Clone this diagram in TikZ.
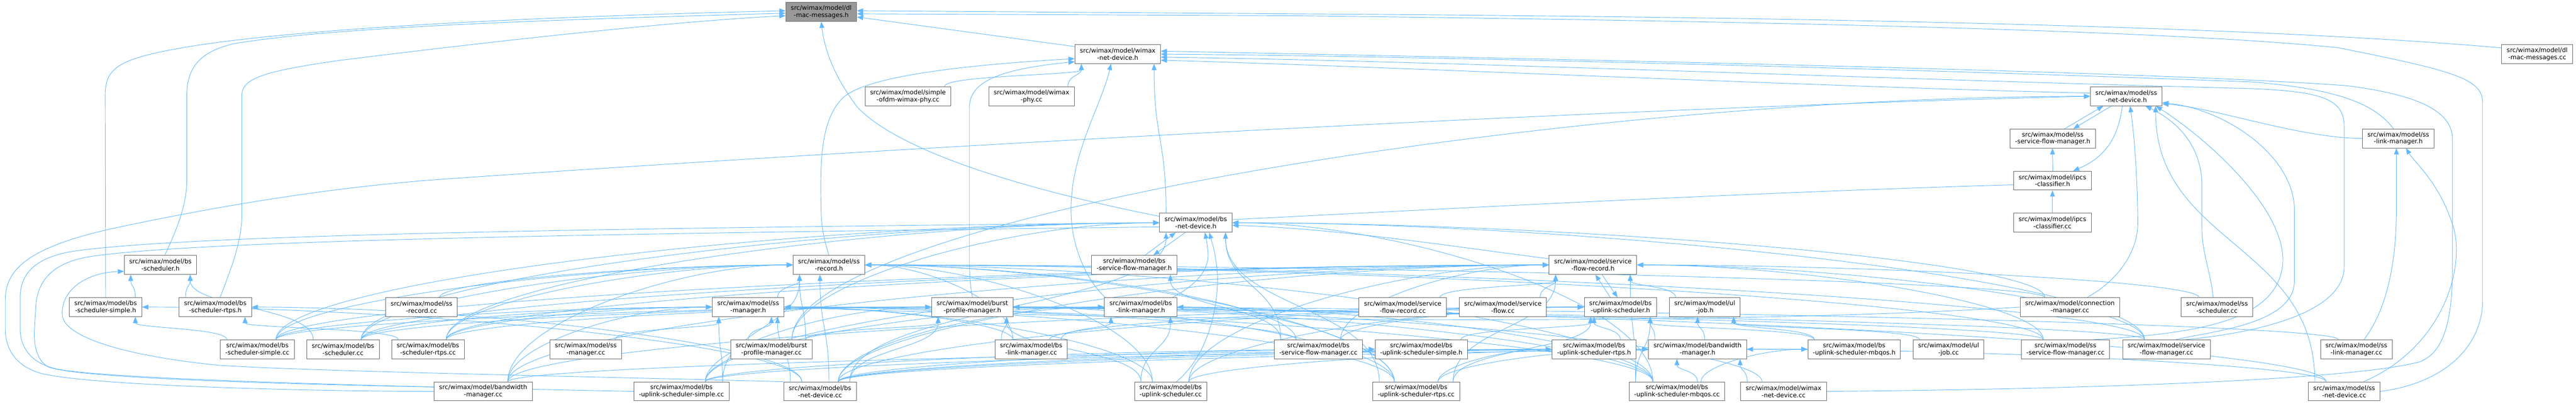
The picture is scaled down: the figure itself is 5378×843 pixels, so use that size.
\documentclass[tikz,border=0pt]{standalone}
\usepackage{fontspec}
\setmainfont{DejaVu Sans}
\usetikzlibrary{arrows.meta,calc}
\definecolor{edgeblue}{HTML}{63B8FF}
\definecolor{nodeborder}{HTML}{666666}
\definecolor{rootfill}{HTML}{999999}
\pgfdeclarelayer{bg}
\pgfsetlayers{bg,main}
\tikzset{
  file/.style={draw=nodeborder, line width=1pt, fill=white, text=black, align=center,
    minimum height=39.5pt, inner xsep=10.5pt, inner ysep=0pt, font=\fontsize{13}{15}\selectfont},
  rootfile/.style={file, fill=rootfill},
  dep/.style={draw=edgeblue, line width=1pt, -{Triangle[length=13pt,width=10pt]}},
}
% bottom-to-bottom connector
\newcommand\depA[2]{\draw[dep] let \p1=(#1.north), \p2=(#2.south), \p3=(#1.north west), \p4=(#1.north east),
  \p5=(#2.south west), \p6=(#2.south east),
  \n1={min(max(\x2,\x3+14pt),\x4-14pt)}, \n2={min(max(\x1,\x5+14pt),\x6-14pt)}, \n3={0.5*(\y2-\y1)} in
  (\n1,\y1) .. controls (\n1,\y1+\n3) and (\n2,\y2-\n3) .. (\n2,\y2);}
% connector entering the west side
\newcommand\depW[2]{\draw[dep] let \p1=($(#1.north)!.5!(#1.north east)$), \p2=(#2.west),
  \n1={0.5*(\y2-\y1)}, \n2={0.4*(\x2-\x1)} in
  (\p1) .. controls (\x1,\y1+\n1) and (\x2-\n2,\y2) .. (\p2);}
% connector entering the east side
\newcommand\depE[2]{\draw[dep] let \p1=($(#1.north)!.5!(#1.north west)$), \p2=(#2.east),
  \n1={0.5*(\y2-\y1)}, \n2={0.4*(\x1-\x2)} in
  (\p1) .. controls (\x1,\y1+\n1) and (\x2+\n2,\y2) .. (\p2);}
\begin{document}
\begin{tikzpicture}[x=1pt,y=-1pt]
\useasboundingbox (0,0) rectangle (5378,843);
% row 0
\node[rootfile] (dlh) at (1714.5,25) {src/wimax/model/dl\\-mac-messages.h};
% row 1
\node[file] (wndh) at (2333.5,113) {src/wimax/model/wimax\\-net-device.h};
\node[file] (dlcc) at (5297,113) {src/wimax/model/dl\\-mac-messages.cc};
% row 2
\node[file] (sofdm) at (1895.5,201) {src/wimax/model/simple\\-ofdm-wimax-phy.cc};
\node[file] (wphy) at (2153.5,201) {src/wimax/model/wimax\\-phy.cc};
\node[file] (ssndh) at (4439,201) {src/wimax/model/ss\\-net-device.h};
% row 3
\node[file] (sssfmh) at (4285.5,289) {src/wimax/model/ss\\-service-flow-manager.h};
\node[file] (sslmh) at (5007,289) {src/wimax/model/ss\\-link-manager.h};
% row 4
\node[file] (ipcsh) at (4285,377) {src/wimax/model/ipcs\\-classifier.h};
% row 5
\node[file] (bsndh) at (2496.5,465) {src/wimax/model/bs\\-net-device.h};
\node[file] (ipcscc) at (4285,465) {src/wimax/model/ipcs\\-classifier.cc};
% row 6
\node[file] (bsschh) at (335,553) {src/wimax/model/bs\\-scheduler.h};
\node[file] (ssrech) at (1730.6,553) {src/wimax/model/ss\\-record.h};
\node[file] (bssfmh) at (2368,553) {src/wimax/model/bs\\-service-flow-manager.h};
\node[file] (sfrh) at (3325.6,553) {src/wimax/model/service\\-flow-record.h};
% row 7
\node[file] (bsschsh) at (220.5,641) {src/wimax/model/bs\\-scheduler-simple.h};
\node[file] (bsschrh) at (449.5,641) {src/wimax/model/bs\\-scheduler-rtps.h};
\node[file] (ssreccc) at (880,641) {src/wimax/model/ss\\-record.cc};
\node[file] (ssmgrh) at (1562,641) {src/wimax/model/ss\\-manager.h};
\node[file] (bpmh) at (2030,641) {src/wimax/model/burst\\-profile-manager.h};
\node[file] (bslmh) at (2381.5,641) {src/wimax/model/bs\\-link-manager.h};
\node[file] (sfrcc) at (2928.5,641) {src/wimax/model/service\\-flow-record.cc};
\node[file] (sfcc) at (3137.5,641) {src/wimax/model/service\\-flow.cc};
\node[file] (bsuplh) at (3383,641) {src/wimax/model/bs\\-uplink-scheduler.h};
\node[file] (uljobh) at (3559,641) {src/wimax/model/ul\\-job.h};
\node[file] (cmcc) at (4321.4,641) {src/wimax/model/connection\\-manager.cc};
\node[file] (ssschcc) at (4628.5,641) {src/wimax/model/ss\\-scheduler.cc};
% row 8
\node[file] (bsschscc) at (537.3,729) {src/wimax/model/bs\\-scheduler-simple.cc};
\node[file] (bsschcc) at (716,729) {src/wimax/model/bs\\-scheduler.cc};
\node[file] (bsschrcc) at (893.5,729) {src/wimax/model/bs\\-scheduler-rtps.cc};
\node[file] (ssmgrcc) at (1223,729) {src/wimax/model/ss\\-manager.cc};
\node[file] (bpmcc) at (1610.5,729) {src/wimax/model/burst\\-profile-manager.cc};
\node[file] (bslmcc) at (2152.7,729) {src/wimax/model/bs\\-link-manager.cc};
\node[file] (bssfmcc) at (2752.3,729) {src/wimax/model/bs\\-service-flow-manager.cc};
\node[file] (bsupsh) at (2967.2,729) {src/wimax/model/bs\\-uplink-scheduler-simple.h};
\node[file] (bsuprh) at (3328,729) {src/wimax/model/bs\\-uplink-scheduler-rtps.h};
\node[file] (bwmh) at (3544,729) {src/wimax/model/bandwidth\\-manager.h};
\node[file] (bsupmh) at (3871,729) {src/wimax/model/bs\\-uplink-scheduler-mbqos.h};
\node[file] (uljobcc) at (4068,729) {src/wimax/model/ul\\-job.cc};
\node[file] (sssfmcc) at (4312,729) {src/wimax/model/ss\\-service-flow-manager.cc};
\node[file] (sfmcc) at (4523,729) {src/wimax/model/service\\-flow-manager.cc};
\node[file] (sslmcc) at (4919.5,729) {src/wimax/model/ss\\-link-manager.cc};
% row 9
\node[file] (bwmcc) at (1008.7,817) {src/wimax/model/bandwidth\\-manager.cc};
\node[file] (bsupscc) at (1422.7,817) {src/wimax/model/bs\\-uplink-scheduler-simple.cc};
\node[file] (bsndcc) at (1712,817) {src/wimax/model/bs\\-net-device.cc};
\node[file] (bsupcc) at (2444,817) {src/wimax/model/bs\\-uplink-scheduler.cc};
\node[file] (bsuprcc) at (2956.6,817) {src/wimax/model/bs\\-uplink-scheduler-rtps.cc};
\node[file] (bsupmcc) at (3501,817) {src/wimax/model/bs\\-uplink-scheduler-mbqos.cc};
\node[file] (wndcc) at (3723.6,817) {src/wimax/model/wimax\\-net-device.cc};
\node[file] (ssndcc) at (4894,817) {src/wimax/model/ss\\-net-device.cc};

\begin{pgfonlayer}{bg}
\begin{scope}[yscale=0.9942]
% ---- includers of dl-mac-messages.h
\draw[dep] (wndh.170) -- (dlh.-8);
\draw[dep] (dlcc.170) .. controls (4700,55) and (3800,36) .. (2700,29) -- (dlh.2);
\draw[dep] (ssndcc.east) .. controls (5100,805) and (5183,730) .. (5183,630) -- (5183,215)
  .. controls (5183,165) and (5120,148) .. (4880,100) .. controls (4600,72) and (4000,48) .. (2700,33) -- (dlh.-3);
\draw[dep] ([xshift=9pt]bsschh.north) .. controls (370,480) and (390,430) .. (390,378) -- (390,200)
  .. controls (390,140) and (420,108) .. (487,92) .. controls (700,55) and (1200,40) .. (dlh.-178);
\draw[dep] (bsschsh.north) -- (219.6,200) .. controls (219.6,140) and (250,122) .. (400,97)
  .. controls (600,65) and (1000,38) .. (dlh.178);
\draw[dep] ([xshift=10pt]bsschrh.north) .. controls (480,570) and (505,510) .. (505,450) -- (505,200)
  .. controls (505,165) and (550,150) .. (700,128) .. controls (1000,90) and (1400,45) .. (dlh.-174);
\draw[dep] (bsndh.170) .. controls (2100,390) and (1870,310) .. (1790,225)
  .. controls (1745,165) and (1722,110) .. (dlh.south);
% ---- includers of wimax-net-device.h
\depA{sofdm}{wndh}
\depA{wphy}{wndh}
\depA{bsndh}{wndh}
\draw[dep] (bpmh.north) .. controls (2026,600) and (2024,580) .. (2024,550) -- (2024,225)
  .. controls (2024,170) and (2090,145) .. (wndh.-170);
\draw[dep] ([xshift=2pt]bslmh.north west) .. controls (2270,590) and (2236,520) .. (2236,440)
  .. controls (2236,320) and (2300,220) .. ([xshift=-14pt]wndh.south);
\draw[dep] (ssrech.north) .. controls (1716,490) and (1714,460) .. (1714,432)
  .. controls (1712,330) and (1715,250) .. (1760,205) .. controls (1800,168) and (1950,140) .. (wndh.-174);
\draw[dep] (ssndh.175) .. controls (3800,182) and (2900,140) .. (wndh.-8);
\draw[dep] ([xshift=-10pt]sslmh.north) .. controls (4962,225) and (4900,188) .. (4700,172)
  .. controls (4000,145) and (3000,118) .. (wndh.east);
\draw[dep] ([xshift=40pt]sfmcc.north) .. controls (4700,700) and (4894,660) .. (4894,560) -- (4894,265)
  .. controls (4894,205) and (4840,192) .. (4700,186) .. controls (3900,165) and (3000,128) .. (wndh.-4);
\draw[dep] (wndcc.east) .. controls (4300,818) and (4900,800) .. (5050,760)
  .. controls (5110,740) and (5120,650) .. (5120,560) -- (5120,290)
  .. controls (5118,230) and (5040,198) .. (4900,180) .. controls (4500,150) and (3300,125) .. (wndh.4);
% ---- ss-net-device.h cluster
\draw[dep] ([xshift=25pt]sssfmh.north) -- ([xshift=-48pt]ssndh.south);
\draw[dep] ([xshift=-31pt]ssndh.south) -- ([xshift=43pt]sssfmh.north);
\draw[dep] ([xshift=-8pt]ssndh.south) .. controls (4422,290) and (4395,330) .. ([xshift=43pt]ipcsh.north);
\depA{ipcsh}{sssfmh}
\depA{ipcscc}{ipcsh}
\draw[dep] (bsndh.5) .. controls (3000,440) and (3700,400) .. (ipcsh.-3);
\draw[dep] (sslmh.west) .. controls (4800,290) and (4620,225) .. (ssndh.-12);
\draw[dep] ([xshift=36pt]cmcc.north) .. controls (4420,590) and (4463,530) .. (4463,470)
  .. controls (4463,400) and (4458,300) .. ([xshift=8pt]ssndh.south);
\draw[dep] ([xshift=-8pt]ssschcc.north) .. controls (4615,570) and (4597,530) .. (4597,480) -- (4597,390)
  .. controls (4597,320) and (4560,262) .. ([xshift=40pt]ssndh.south);
\draw[dep] ([xshift=60pt]sssfmcc.north) .. controls (4600,700) and (4750,670) .. (4765,560)
  .. controls (4780,450) and (4620,300) .. ([xshift=62pt]ssndh.south);
\draw[dep] ([xshift=20pt]sfmcc.north) .. controls (4620,695) and (4790,680) .. (4790,590) -- (4790,440)
  .. controls (4790,330) and (4650,230) .. (ssndh.-10);
\depA{ssndcc}{ssndh}
\draw[dep] ([xshift=-35pt]ssndcc.north east) .. controls (5100,730) and (5150,560) .. (5120,470)
  .. controls (5090,380) and (5040,340) .. ([xshift=16pt]sslmh.south);
\draw[dep] ([xshift=16pt]sslmcc.north) .. controls (4990,640) and (5003,530) .. (5003,440) -- ([xshift=-4pt]sslmh.south);
% ---- bs-net-device.h cluster
\draw[dep] ([xshift=22.6pt]bssfmh.north) -- ([xshift=-42pt]bsndh.south);
\draw[dep] ([xshift=-22pt]bsndh.south) -- ([xshift=40pt]bssfmh.north);
\draw[dep] ([xshift=-10pt]bslmh.north east) .. controls (2505,595) and (2525,560) .. (2522,530)
  .. controls (2520,510) .. ([xshift=19pt]bsndh.south);
\draw[dep] ([xshift=12pt]bsupcc.north) .. controls (2530,740) and (2548,620) .. (2540,557)
  .. controls (2535,525) .. ([xshift=28pt]bsndh.south);
\draw[dep] (sfrh.172) .. controls (3050,520) and (2800,480) .. (bsndh.-4);
\draw[dep] ([xshift=-21pt]bsuplh.north) -- ([xshift=5pt]sfrh.south);
\draw[dep] ([xshift=19pt]sfrh.south) -- ([xshift=-6pt]bsuplh.north);
% ---- loops round the left
\draw[dep] (bwmcc.west) .. controls (700,822) and (200,812) .. (86,784) .. controls (30,768) and (11,730) .. (11,690)
  -- (11,630) .. controls (11,565) and (60,520) .. (229,481) .. controls (420,440) and (650,398) .. (899,378)
  .. controls (2000,300) and (3500,222) .. (ssndh.west);
\draw[dep] (bsupscc.west) .. controls (1000,815) and (250,800) .. (120,775) .. controls (60,762) and (42,725) .. (42,690)
  -- (42,625) .. controls (42,570) and (80,540) .. (150,528) .. controls (400,490) and (1400,478) .. (bsndh.west);
\draw[dep] (bwmcc.175) .. controls (600,806) and (160,795) .. (100,770) .. controls (75,755) and (70,720) .. (72,690)
  -- (75,640) .. controls (80,580) and (120,552) .. (180,540) .. controls (420,500) and (1500,488) .. (bsndh.-5);
\draw[dep] (bsndcc.north west) .. controls (1300,792) and (650,780) .. (459,767)
  .. controls (300,752) and (132,715) .. (130,660) .. controls (128,605) and (185,572) .. (bsschh.-170);
% ---- simple connectors
\depA{bsschscc}{bsschsh}
\depA{bsschcc}{bsschh}
\depA{bsschrcc}{bsschrh}
\depA{bsschsh}{bsschh}
\depA{bsschrh}{bsschh}
\depA{ssmgrh}{ssrech}
\depA{ssmgrcc}{ssmgrh}
\depA{bpmcc}{bpmh}
\depA{bpmcc}{ssmgrh}
\depA{bpmcc}{ssrech}
\depA{bslmcc}{bslmh}
\depA{bslmcc}{bpmh}
\depA{bssfmcc}{bssfmh}
\depA{bssfmcc}{bsndh}
\depA{bsupscc}{ssmgrh}
\depA{bsupscc}{ssrech}
\depA{bsndcc}{bsndh}
\depA{bsndcc}{bpmh}
\depA{bsndcc}{ssmgrh}
\depA{bsndcc}{ssrech}
\depA{bsupcc}{bslmh}
\depA{bsupcc}{bpmh}
\depA{bsuprcc}{bsndh}
\depA{bsuprcc}{sfrh}
\depA{bsuprcc}{bsuplh}
\depA{bsupmcc}{sfrh}
\depA{bsupmcc}{bwmh}
\depA{bsupmcc}{bsuplh}
\depA{wndcc}{bwmh}
\depA{sfrcc}{sfrh}
\depA{sfcc}{sfrh}
\depA{uljobh}{sfrh}
\depA{bsupsh}{bsuplh}
\depA{bsuprh}{bsuplh}
\depA{bwmh}{bsuplh}
\depA{bwmh}{uljobh}
\depA{bsupmh}{bsuplh}
\depA{bsupmh}{uljobh}
\depA{uljobcc}{uljobh}
% ---- connectors into west sides
\depW{bsschscc}{bsndh}
\depW{bsschscc}{bpmh}
\depW{bsschscc}{ssmgrh}
\depW{bsschscc}{ssrech}
\depW{bsschscc}{sfrh}
\depW{bsschcc}{bsndh}
\depW{bsschcc}{bpmh}
\depW{bsschcc}{ssmgrh}
\depW{bsschcc}{ssrech}
\depW{bsschcc}{sfrh}
\depW{bsschrcc}{bsndh}
\depW{bsschrcc}{bpmh}
\depW{bsschrcc}{ssmgrh}
\depW{bsschrcc}{ssrech}
\depW{bsschrcc}{sfrh}
\depW{ssreccc}{ssrech}
\depW{bpmcc}{bsndh}
\depW{bpmcc}{ssndh}
\depW{bslmcc}{bsuplh}
\depW{bssfmcc}{bsuplh}
\depW{bssfmcc}{sfrh}
\depW{bwmcc}{bwmh}
\depW{bwmcc}{ssmgrh}
\depW{bwmcc}{ssrech}
\depW{bwmcc}{bsuplh}
\depW{bwmcc}{sfrh}
\depW{bsupscc}{bsupsh}
\depW{bsupscc}{bpmh}
\depW{bsupscc}{bwmh}
\depW{bsupscc}{sfrh}
\depW{bsupscc}{bslmh}
\depW{bsndcc}{bslmh}
\depW{bsndcc}{sfrh}
\depW{bsndcc}{bsuplh}
\depW{bsndcc}{bsupsh}
\depW{bsndcc}{bsuprh}
\depW{bsndcc}{bsupmh}
\depW{bsndcc}{bwmh}
\depW{bsupcc}{bsuplh}
\depW{bsupcc}{sfrh}
\depW{bsupcc}{bwmh}
\depW{bsuprcc}{bsuprh}
\depW{bsuprcc}{bwmh}
\depW{bsupmcc}{bsupmh}
% ---- connectors into east sides
\depE{bslmcc}{ssmgrh}
\depE{bslmcc}{ssrech}
\depE{bssfmcc}{ssmgrh}
\depE{bssfmcc}{ssrech}
\depE{bsndcc}{bsschsh}
\depE{bsndcc}{bsschrh}
\depE{bsupcc}{ssmgrh}
\depE{bsupcc}{ssrech}
\depE{bsuprcc}{bslmh}
\depE{bsuprcc}{bpmh}
\depE{bsuprcc}{ssmgrh}
\depE{bsuprcc}{ssrech}
\depE{bsupmcc}{bsndh}
\depE{bsupmcc}{bslmh}
\depE{bsupmcc}{bpmh}
\depE{bsupmcc}{ssmgrh}
\depE{bsupmcc}{ssrech}
\depE{wndcc}{bpmh}
\depE{cmcc}{bsndh}
\depE{cmcc}{ssrech}
\draw[dep] (cmcc.west) .. controls (3500,690) and (2200,668) .. (ssmgrh.east);
\depE{ssschcc}{sfrh}
\depE{sssfmcc}{ssrech}
\depE{sssfmcc}{ssmgrh}
\depE{sssfmcc}{sfrh}
\depE{sfmcc}{bsndh}
\depE{sfmcc}{ssrech}
\depE{sfmcc}{ssmgrh}
\depE{sfmcc}{sfrh}
\depE{sslmcc}{bpmh}
\depE{ssndcc}{bpmh}
\depE{ssndcc}{bwmh}
\end{scope}
\end{pgfonlayer}
\end{tikzpicture}
\end{document}
